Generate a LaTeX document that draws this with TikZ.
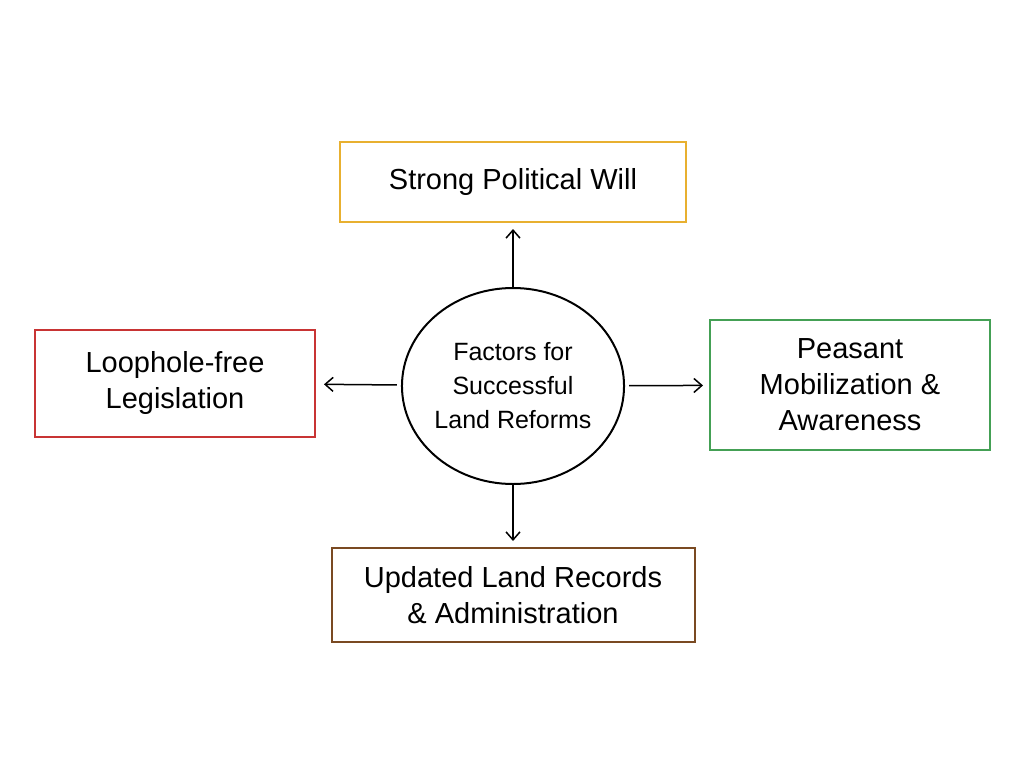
\documentclass[tikz,border=0pt]{standalone}
\usepackage{fontspec}
\setmainfont{Liberation Sans}
\usetikzlibrary{shapes.geometric, arrows.meta, positioning}
\definecolor{polcol}{HTML}{E8B030}
\definecolor{legcol}{HTML}{C83434}
\definecolor{peacol}{HTML}{44A055}
\definecolor{reccol}{HTML}{7A4A22}
\tikzstyle{factor} = [draw, rectangle, line width=2pt, align=center, font=\fontsize{29}{36}\selectfont, inner sep=0pt]
\tikzstyle{hub}    = [draw, ellipse, line width=2pt, align=center, font=\fontsize{25}{34}\selectfont, minimum width=220pt, minimum height=196pt, inner sep=0pt]
\tikzstyle{arr}    = [draw, line width=1.5pt, -{Straight Barb[length=8pt,width=14pt]}]

\begin{document}
\begin{tikzpicture}[x=1pt, y=-1pt]
\useasboundingbox (0,0) rectangle (1024,768);

% nodes
\node [hub]                                              (hub)  at (513,386) {Factors for\\Successful\\Land Reforms};
\node [factor, draw=polcol, minimum width=346pt, minimum height=80pt]  (pol)  at (513,182) {Strong Political Will};
\node [factor, draw=legcol, minimum width=280pt, minimum height=107pt] (leg)  at (175,383) {Loophole-free\\Legislation};
\node [factor, draw=peacol, minimum width=280pt, minimum height=130pt] (pea)  at (850,385) {Peasant\\Mobilization \&\\Awareness};
\node [factor, draw=reccol, minimum width=363pt, minimum height=94pt]  (rec)  at (513,595) {Updated Land Records\\\& Administration};

% edges
\path [arr] (hub) edge [shorten >=6pt]  (pol);
\path [arr] (hub) edge [shorten >=8pt, shorten <=4pt] (leg);
\path [arr] (hub) edge [shorten >=6pt, shorten <=4pt] (pea);
\path [arr] (hub) edge [shorten >=6pt]  (rec);

\end{tikzpicture}
\end{document}
